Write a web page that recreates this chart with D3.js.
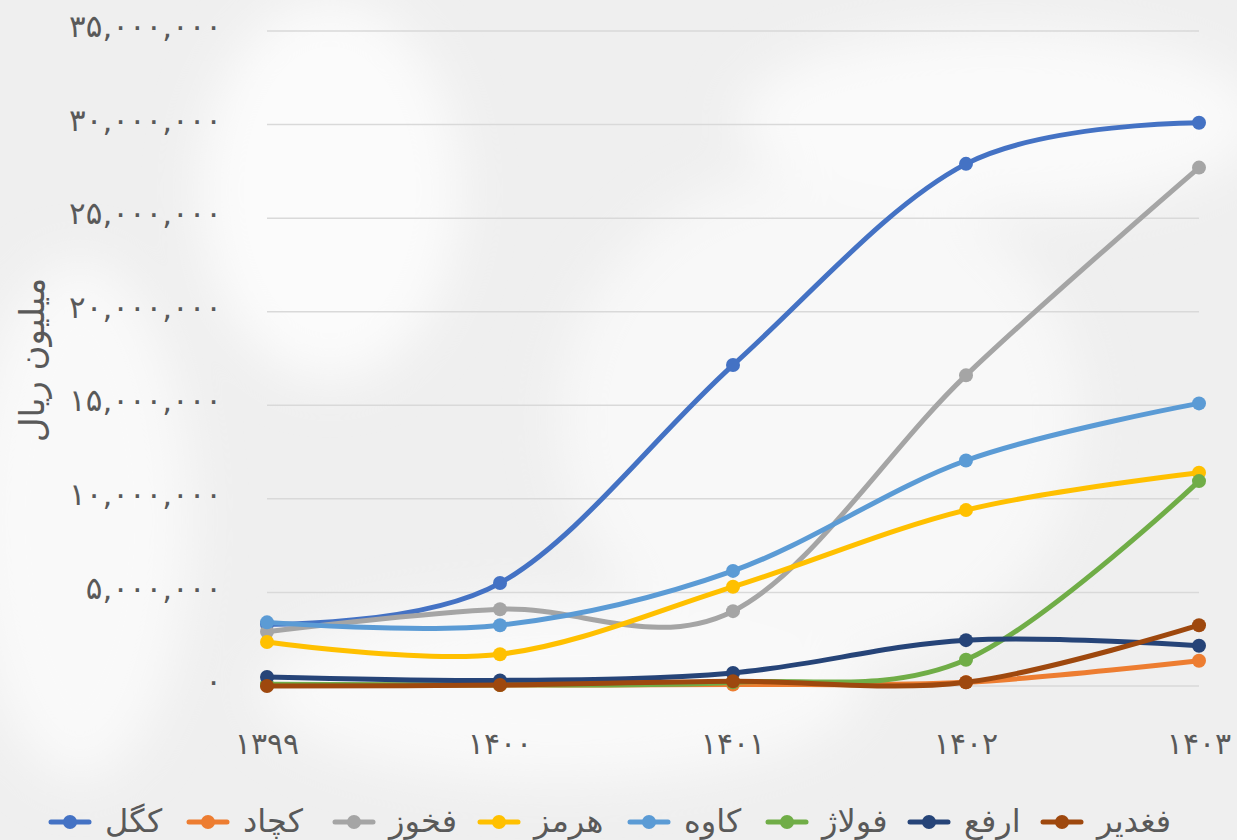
<!DOCTYPE html>
<html>
<head>
<meta charset="utf-8">
<script src="https://cdn.jsdelivr.net/npm/d3@7"></script>
<style>
  body { margin: 0; background: #f1f1f1; }
  svg { display: block; }
  text { font-family: "DejaVu Sans", "Noto Sans", sans-serif; fill: #595959; }
</style>
</head>
<body>
<svg width="1237" height="840"></svg>
<script>
var years = ['1399', '1400', '1401', '1402', '1403'];
var names = ['کگل', 'کچاد', 'فخوز', 'هرمز', 'کاوه', 'فولاژ', 'ارفع', 'فغدیر'];
var colors = ['#4472c4', '#ed7d31', '#a5a5a5', '#ffc000', '#5b9bd5', '#70ad47', '#264478', '#9e480e'];

var kegol  = [3300000, 5500000, 17150000, 27900000, 30100000];
var kchad  = [50000, 50000, 80000, 200000, 1350000];
var fkhoz  = [2900000, 4100000, 4000000, 16600000, 27700000];
var hormoz = [2350000, 1700000, 5300000, 9400000, 11400000];
var kaveh  = [3400000, 3250000, 6150000, 12050000, 15100000];
var folaj  = [100000, 60000, 200000, 1400000, 10950000];
var arfa   = [480000, 300000, 700000, 2450000, 2150000];
var fghadir = [0, 50000, 250000, 200000, 3250000];
var series = [kegol, kchad, fkhoz, hormoz, kaveh, folaj, arfa, fghadir];

var yTicks = [0, 5000000, 10000000, 15000000, 20000000, 25000000, 30000000, 35000000];

var svg = d3.select('svg');

// background
var defs = svg.append('defs');
defs.append('filter').attr('id', 'blur')
    .attr('x', '-50%').attr('y', '-50%').attr('width', '200%').attr('height', '200%')
    .append('feGaussianBlur').attr('stdDeviation', 25);

svg.append('rect')
    .attr('width', 1237)
    .attr('height', 840)
    .style('fill', '#efefef');

var blobs = svg.append('g').attr('filter', 'url(#blur)');
blobs.append('ellipse').attr('cx', 330).attr('cy', 190).attr('rx', 130).attr('ry', 190).style('fill', '#fbfbfb');
blobs.append('ellipse').attr('cx', 820).attr('cy', 420).attr('rx', 260).attr('ry', 250).style('fill', '#f8f8f8');
blobs.append('ellipse').attr('cx', 1000).attr('cy', 120).attr('rx', 260).attr('ry', 90).style('fill', '#fafafa');
blobs.append('ellipse').attr('cx', 80).attr('cy', 520).attr('rx', 110).attr('ry', 260).style('fill', '#f9f9f9');
blobs.append('ellipse').attr('cx', 560).attr('cy', 690).attr('rx', 300).attr('ry', 90).style('fill', '#f9f9f9');

var fa = function(s) {
    return String(s).replace(/[0-9]/g, function(c) { return '۰۱۲۳۴۵۶۷۸۹'[+c]; });
};

var x = d3.scalePoint().domain(years).range([267, 1199]).padding(0);
var y = d3.scaleLinear().domain([0, 35000000]).range([686, 31]);

// grid
svg.append('g').selectAll('line')
    .data(yTicks)
    .join('line')
    .attr('x1', 267)
    .attr('x2', 1199)
    .attr('y1', function(d) { return y(d); })
    .attr('y2', function(d) { return y(d); })
    .style('stroke', '#d9d9d9')
    .style('stroke-width', 1.5);

// y tick labels
svg.append('g').selectAll('text')
    .data(yTicks)
    .join('text')
    .attr('x', 222)
    .attr('y', function(d) { return y(d); })
    .attr('dy', '0.2em')
    .attr('text-anchor', 'end')
    .style('font-size', '31px')
    .text(function(d) { return fa(d3.format(',')(d)); });

// x tick labels
svg.append('g').selectAll('text')
    .data(years)
    .join('text')
    .attr('x', function(d) { return x(d); })
    .attr('y', 754)
    .attr('text-anchor', 'middle')
    .style('font-size', '30px')
    .text(function(d) { return fa(d); });

// axis title
svg.append('text')
    .attr('transform', 'translate(44,360) rotate(-90)')
    .attr('text-anchor', 'middle')
    .style('font-size', '34px')
    .text('میلیون ریال');

var line = d3.line()
    .x(function(d, i) { return x(years[i]); })
    .y(function(d) { return y(d); })
    .curve(d3.curveCardinal.tension(0));

var plot = svg.append('g');
series.forEach(function(vals, k) {
    var g = plot.append('g');
    g.append('path')
        .attr('d', line(vals))
        .style('fill', 'none')
        .style('stroke', colors[k])
        .style('stroke-width', 5)
        .style('stroke-linecap', 'round');
    g.selectAll('circle')
        .data(vals)
        .join('circle')
        .attr('cx', function(d, i) { return x(years[i]); })
        .attr('cy', function(d) { return y(d); })
        .attr('r', 7)
        .style('fill', colors[k]);
});

// legend
var legendX = [51, 189, 335, 480, 630, 768, 910, 1043];
var legend = svg.append('g');
names.forEach(function(n, k) {
    var lg = legend.append('g').attr('transform', 'translate(' + legendX[k] + ',822)');
    lg.append('line')
        .attr('x1', 0).attr('x2', 38)
        .style('stroke', colors[k])
        .style('stroke-width', 5)
        .style('stroke-linecap', 'round');
    lg.append('circle')
        .attr('cx', 19).attr('r', 7)
        .style('fill', colors[k]);
    lg.append('text')
        .attr('x', 54)
        .attr('dy', '0.3em')
        .style('font-size', '32px')
        .text(n);
});
</script>
</body>
</html>
